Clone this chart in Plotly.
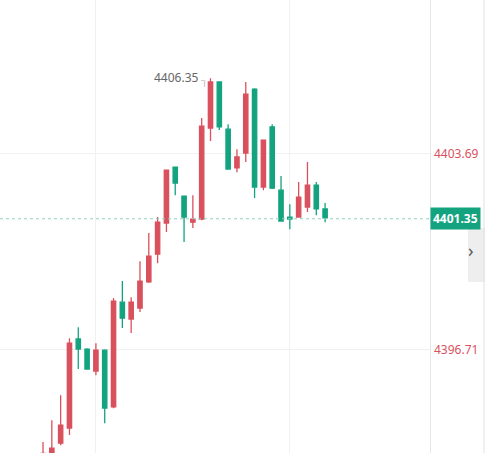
import plotly.graph_objects as go

# OHLC, left to right
opens = [4392.80, 4392.90, 4393.36, 4393.90, 4397.07, 4396.71, 4395.93, 4396.67, 4394.65, 4398.38,
         4397.78, 4398.17, 4399.10, 4400.09, 4401.20, 4403.19, 4402.16, 4401.23, 4401.34, 4404.58,
         4406.22, 4404.54, 4403.16, 4403.69, 4405.97, 4402.48, 4404.62, 4402.37, 4401.41, 4401.41,
         4401.77, 4402.55, 4401.70]
highs = [4393.40, 4394.18, 4395.07, 4397.10, 4397.49, 4396.74, 4396.92, 4396.70, 4398.53, 4399.13,
         4398.56, 4399.84, 4400.84, 4401.41, 4403.10, 4403.21, 4402.18, 4402.19, 4404.94, 4406.35,
         4406.25, 4404.72, 4403.83, 4406.22, 4406.00, 4404.17, 4404.72, 4402.87, 4401.87, 4402.66,
         4403.37, 4402.66, 4401.91]
lows = [4392.70, 4392.80, 4393.29, 4393.65, 4396.00, 4395.97, 4395.78, 4394.07, 4394.60, 4397.46,
        4397.28, 4398.03, 4399.06, 4399.77, 4400.88, 4402.19, 4400.52, 4401.02, 4401.30, 4404.12,
        4404.51, 4403.10, 4403.01, 4403.37, 4402.09, 4402.37, 4402.41, 4401.25, 4400.98, 4401.39,
        4401.59, 4401.48, 4401.23]
closes = [4393.00, 4393.18, 4394.00, 4396.92, 4396.71, 4396.00, 4396.67, 4394.61, 4398.42, 4397.81,
          4398.38, 4399.13, 4400.02, 4401.23, 4403.08, 4402.62, 4401.41, 4401.34, 4404.65, 4406.22,
          4404.62, 4403.12, 4403.55, 4405.79, 4402.48, 4404.15, 4402.44, 4401.27, 4401.34, 4402.12,
          4402.55, 4401.70, 4401.38]
x = list(range(1, len(opens) + 1))

tick_vals = [4403.69, 4396.71]
last_price = 4401.35
peak = 4406.35

RED = "#d9515d"
GREEN = "#13a37f"

fig = go.Figure(go.Candlestick(
    x=x, open=opens, high=highs, low=lows, close=closes,
    increasing=dict(line=dict(color=RED, width=1.3), fillcolor=RED),
    decreasing=dict(line=dict(color=GREEN, width=1.3), fillcolor=GREEN),
    whiskerwidth=0, hoverinfo="skip",
))

fig.add_hline(y=last_price, line=dict(color="#8fd0bf", width=1, dash="dot"))

for v in tick_vals:
    fig.add_annotation(x=1, xref="paper", y=v, text="%.2f" % v, showarrow=False,
                       xanchor="left", xshift=2, font=dict(color="#d9515d", size=12))
fig.add_annotation(x=1, xref="paper", y=last_price, text="<b>%.2f</b>" % last_price,
                   showarrow=False, xanchor="left", bgcolor="#13a37f", borderpad=2,
                   font=dict(color="white", size=12))
fig.add_annotation(x=20, y=peak, text="%.2f" % peak, showarrow=False, xanchor="right",
                   xshift=-10, yshift=1, font=dict(color="#666", size=12))
fig.add_annotation(x=20, y=peak, text="┐", showarrow=False, xanchor="right",
                   xshift=-1, yshift=-2, font=dict(color="#aaa", size=10))

# side tab with chevron
fig.add_shape(type="rect", xref="paper", yref="paper", x0=468 / 430, x1=485 / 430,
              y0=1 - 282 / 453, y1=1 - 228 / 453, fillcolor="#eeeeee", line_width=0)
fig.add_annotation(x=476 / 430, xref="paper", y=1 - 250 / 453, yref="paper", text="›",
                   showarrow=False, font=dict(color="#555", size=18))
fig.add_shape(type="line", xref="paper", yref="paper", x0=484 / 430, x1=484 / 430,
              y0=0, y1=1, line=dict(color="#e0e0e0", width=1))

fig.update_layout(
    width=485, height=453, margin=dict(l=0, r=55, t=0, b=0),
    paper_bgcolor="white", plot_bgcolor="white", showlegend=False,
    font=dict(family="Noto Sans"),
    xaxis=dict(range=[-3.88, 44.9], rangeslider=dict(visible=False), tickvals=[7, 29],
               showticklabels=False, showgrid=True, gridcolor="#f1f1f1", zeroline=False,
               showline=True, mirror=False, linecolor="#eeeeee"),
    yaxis=dict(range=[4393.01, 4409.14], tickvals=tick_vals, showticklabels=False,
               showgrid=True, gridcolor="#f1f1f1", zeroline=False, side="right",
               showline=True, linecolor="#e6e6e6"),
)

fig.write_html("out.html", config={"displayModeBar": False, "staticPlot": True})

# drop the browser's default body margin so the chart fills the window
with open("out.html", encoding="utf-8") as f:
    page = f.read()
page = page.replace("<body>", '<body style="margin:0;overflow:hidden">', 1)
with open("out.html", "w", encoding="utf-8") as f:
    f.write(page)
